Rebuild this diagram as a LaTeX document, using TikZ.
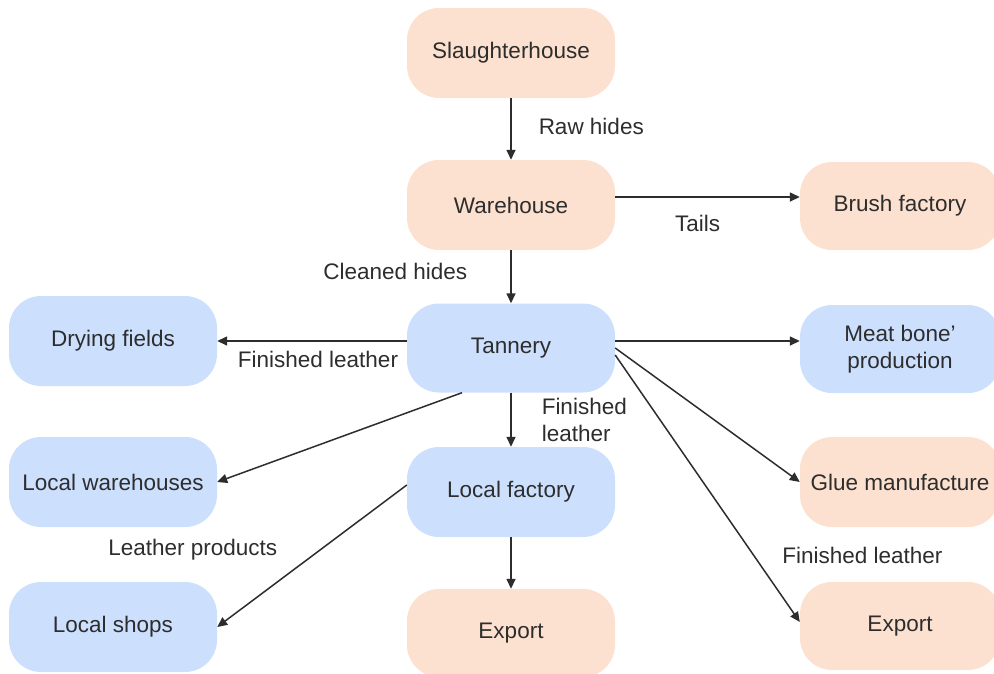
\documentclass[tikz,border=0pt]{standalone}
\usepackage{fontspec}
\setmainfont{Liberation Sans}
\usetikzlibrary{arrows.meta}
\definecolor{peachfill}{RGB}{253,225,208}
\definecolor{bluefill}{RGB}{204,224,254}
\definecolor{inkgray}{RGB}{45,45,45}
\begin{document}
\begin{tikzpicture}[x=1pt,y=-1pt,
        >={Triangle[length=10pt,width=9pt]},
        every node/.style={font=\fontsize{22.5}{27}\selectfont, text=inkgray, inner sep=0pt},
        box/.style={rounded corners=32pt, minimum height=90pt, align=center},
        rawbox/.style={box, fill=peachfill},
        leatherbox/.style={box, fill=bluefill},
        flow/.style={->, line width=1.5pt, draw=inkgray}]
        \useasboundingbox (0,0) rectangle (994,673);

        \node[rawbox, minimum width=208pt] at (511,53) (A) {Slaughterhouse};
        \node[rawbox, minimum width=208pt] at (511,205) (B) {Warehouse};
        \node[rawbox, minimum width=200pt, minimum height=88pt] at (900,206) (C) {Brush factory};
        \node[leatherbox, minimum width=208pt, minimum height=89pt] at (511,348) (D) {Tannery};
        \node[leatherbox, minimum width=208pt] at (113,341) (E) {Drying fields};
        \node[leatherbox, minimum width=200pt, minimum height=88pt] at (900,349) (F) {Meat bone'\\production};
        \node[leatherbox, minimum width=208pt] at (113,482) (G) {Local warehouses};
        \node[leatherbox, minimum width=208pt] at (511,492) (H) {Local factory};
        \node[rawbox, minimum width=200pt] at (900,482) (I) {Glue manufacture};
        \node[leatherbox, minimum width=208pt] at (113,627) (J) {Local shops};
        \node[rawbox, minimum width=208pt, minimum height=88pt] at (511,633) (K) {Export};
        \node[rawbox, minimum width=200pt, minimum height=88pt] at (900,626) (L) {Export};

        \draw [flow] (A) -- (B) node[midway,right=27pt,yshift=3pt] {Raw hides};
        \draw [flow] ([yshift=8pt]B.east) -- ([yshift=9pt]C.west) node[midway,below=17pt,xshift=-10pt] {Tails};
        \draw [flow] (B) -- (D) node[midway,left=43pt,yshift=5pt] {Cleaned hides};
        \draw [flow] ([yshift=7pt]D.west) -- (E.east) node[midway,below=9pt,xshift=6pt] {Finished leather};
        \draw [flow] ([yshift=7pt]D.east) -- ([yshift=8pt]F.west);
        \draw [flow] (D) -- (H) node[midway,right=30pt,align=left] {Finished\\leather};
        \draw [flow] ([xshift=-49pt]D.south) -- (G.east);
        \draw [flow] (D.east) -- (I.west);
        \draw [flow] ([yshift=-7pt]D.east) -- ([yshift=4pt]L.west) node[pos=0.75,right=28pt] {Finished leather};
        \draw [flow] ([yshift=7pt]H.west) -- (J.east) node[midway,left=34pt,yshift=6pt] {Leather products};
        \draw [flow] (H) -- (K);
    \end{tikzpicture}
\end{document}
